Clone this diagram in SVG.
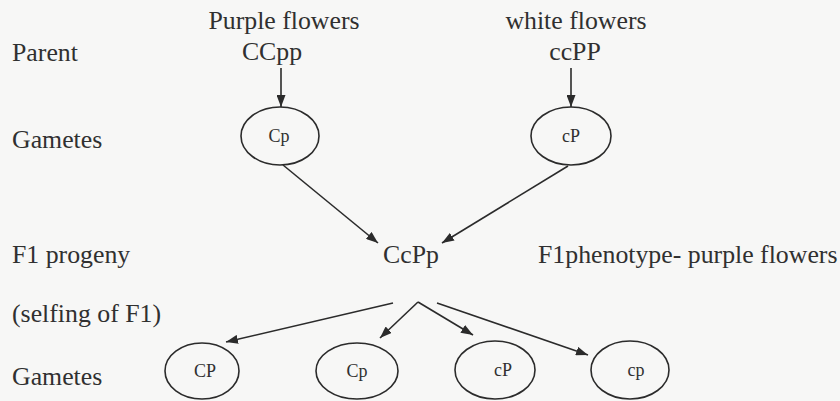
<svg xmlns="http://www.w3.org/2000/svg" width="840" height="401" viewBox="0 0 840 401">
  <style>
    .lbl { font-family: "Liberation Serif", "Times New Roman", serif; font-size: 25.8px; fill: #303030; }
    .mid { text-anchor: middle; }
    .gam { font-family: "Liberation Serif", "Times New Roman", serif; font-size: 18px; fill: #303030; text-anchor: middle; }
    .oval { fill: none; stroke: #2b2b2b; stroke-width: 1.6; }
    .edge { fill: none; stroke: #2b2b2b; stroke-width: 1.6; marker-end: url(#head); }
  </style>
  <defs>
    <marker id="head" viewBox="0 0 12 9" refX="12" refY="4.5" markerWidth="12" markerHeight="9" markerUnits="userSpaceOnUse" orient="auto">
      <path d="M0,0 L12,4.5 L0,9 Z" fill="#2b2b2b"/>
    </marker>
  </defs>
  <rect width="840" height="401" fill="#f7f7f6"/>

  <!-- row labels -->
  <g id="row-labels">
    <text class="lbl" x="12" y="61">Parent</text>
    <text class="lbl" x="12" y="148">Gametes</text>
    <text class="lbl" x="12" y="263">F1 progeny</text>
    <text class="lbl" x="12" y="322">(selfing of F1)</text>
    <text class="lbl" x="12" y="385">Gametes</text>
  </g>

  <!-- parents -->
  <g id="parent-purple">
    <text class="lbl mid" x="284" y="29">Purple flowers</text>
    <text class="lbl mid" x="272" y="60">CCpp</text>
  </g>
  <g id="parent-white">
    <text class="lbl mid" x="576" y="29">white flowers</text>
    <text class="lbl mid" x="575" y="60">ccPP</text>
  </g>

  <!-- parental gametes -->
  <g id="gamete-Cp">
    <ellipse class="oval" cx="280" cy="136" rx="39" ry="29"/>
    <text class="gam" x="279" y="142">Cp</text>
  </g>
  <g id="gamete-cP">
    <ellipse class="oval" cx="571" cy="136" rx="40" ry="29"/>
    <text class="gam" x="571" y="142">cP</text>
  </g>

  <!-- F1 -->
  <g id="f1">
    <text class="lbl" x="383" y="263">CcPp</text>
  </g>
  <g id="f1-phenotype">
    <text class="lbl" x="538" y="263">F1phenotype- purple flowers</text>
  </g>

  <!-- F1 gametes -->
  <g id="f1-gamete-CP">
    <ellipse class="oval" cx="202" cy="371" rx="37" ry="28"/>
    <text class="gam" x="205" y="377">CP</text>
  </g>
  <g id="f1-gamete-Cp">
    <ellipse class="oval" cx="357" cy="371" rx="41" ry="28"/>
    <text class="gam" x="357" y="377">Cp</text>
  </g>
  <g id="f1-gamete-cP">
    <ellipse class="oval" cx="495" cy="370" rx="40" ry="29"/>
    <text class="gam" x="503" y="376">cP</text>
  </g>
  <g id="f1-gamete-cp">
    <ellipse class="oval" cx="630" cy="370" rx="39" ry="29"/>
    <text class="gam" x="636" y="376">cp</text>
  </g>

  <!-- connectors -->
  <g id="connectors">
    <line class="edge" x1="281" y1="68" x2="281" y2="107"/>
    <line class="edge" x1="571" y1="68" x2="571" y2="107"/>
    <line class="edge" x1="283" y1="165" x2="378" y2="243"/>
    <line class="edge" x1="568" y1="166" x2="442" y2="243"/>
    <line class="edge" x1="393" y1="303" x2="226" y2="342"/>
    <line class="edge" x1="418" y1="302" x2="380" y2="338"/>
    <line class="edge" x1="418" y1="302" x2="473" y2="335"/>
    <line class="edge" x1="437" y1="303" x2="588" y2="355"/>
  </g>
</svg>
